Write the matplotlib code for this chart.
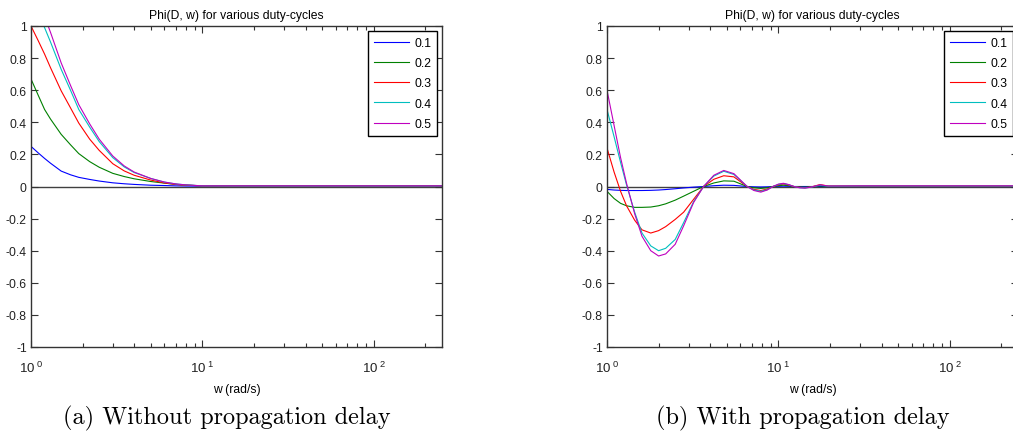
import matplotlib
matplotlib.use("Agg")
import matplotlib.pyplot as plt
from matplotlib.ticker import FixedLocator, LogLocator, NullFormatter

plt.rcParams["font.family"] = ["Liberation Sans", "DejaVu Sans"]
plt.rcParams["mathtext.fontset"] = "custom"
plt.rcParams["mathtext.rm"] = "Liberation Sans"

duty_labels = ["0.1", "0.2", "0.3", "0.4", "0.5"]
line_colors = ["#0000ff", "#008000", "#ff0000", "#00bfbf", "#bf00bf"]

# (a) without propagation delay
w_a = [1, 1.1, 1.2, 1.3, 1.5, 1.7, 1.9, 2.2, 2.5, 3, 3.5, 4, 5, 6, 7, 8, 10,
       15, 30, 100, 250]
phi_a = [
    [0.25, 0.21, 0.175, 0.145, 0.096, 0.073, 0.057, 0.044, 0.034, 0.023, 0.017,
     0.013, 0.008, 0.006, 0.004, 0.003, 0.002, 0.002, 0.002, 0.002, 0.002],
    [0.67, 0.57, 0.48, 0.42, 0.325, 0.26, 0.205, 0.155, 0.12, 0.082, 0.062,
     0.048, 0.031, 0.021, 0.013, 0.009, 0.004, 0.003, 0.003, 0.003, 0.003],
    [1.0, 0.91, 0.825, 0.74, 0.596, 0.49, 0.395, 0.295, 0.225, 0.142, 0.097,
     0.07, 0.04, 0.022, 0.013, 0.008, 0.004, 0.003, 0.003, 0.003, 0.003],
    [1.2, 1.09, 0.99, 0.9, 0.73, 0.6, 0.48, 0.37, 0.28, 0.18, 0.122,
     0.087, 0.05, 0.027, 0.016, 0.01, 0.004, 0.003, 0.003, 0.003, 0.003],
    [1.3, 1.18, 1.06, 0.96, 0.77, 0.63, 0.51, 0.39, 0.295, 0.19, 0.128,
     0.09, 0.05, 0.028, 0.016, 0.01, 0.004, 0.004, 0.004, 0.004, 0.004],
]

# (b) with propagation delay
w_b = [1, 1.1, 1.2, 1.3, 1.45, 1.6, 1.8, 2.0, 2.2, 2.5, 2.8, 3.2, 3.66, 4.2,
       4.8, 5.5, 6.57, 7.2, 7.9, 8.6, 9.3, 10, 10.7, 11.5, 12.3, 13.3, 14.3,
       15.5, 17.5, 19.5, 30, 100, 250]
phi_b = [
    [-0.018, -0.022, -0.024, -0.025, -0.025, -0.025, -0.024, -0.022, -0.019,
     -0.014, -0.009, -0.004, 0.0, 0.005, 0.008, 0.007, 0.0, -0.002, -0.003,
     -0.002, 0.0, 0.001, 0.002, 0.001, 0.0, 0.0, 0.0, 0.0, 0.0, 0.0, 0.0,
     0.0, 0.0],
    [-0.03, -0.075, -0.105, -0.12, -0.13, -0.13, -0.128, -0.12, -0.108,
     -0.085, -0.06, -0.03, 0.0, 0.022, 0.035, 0.033, 0.0, -0.008, -0.012,
     -0.008, 0.0, 0.005, 0.008, 0.005, 0.0, -0.003, -0.004, -0.002, 0.004,
     0.001, 0.001, 0.001, 0.001],
    [0.24, 0.09, -0.03, -0.12, -0.21, -0.27, -0.29, -0.275, -0.25, -0.205,
     -0.16, -0.08, 0.0, 0.045, 0.067, 0.06, 0.0, -0.018, -0.025, -0.016, 0.0,
     0.01, 0.015, 0.009, 0.0, -0.005, -0.007, -0.003, 0.012, 0.003, 0.003,
     0.003, 0.003],
    [0.48, 0.31, 0.15, 0.01, -0.16, -0.29, -0.37, -0.40, -0.385, -0.33,
     -0.225, -0.095, 0.0, 0.065, 0.095, 0.075, 0.0, -0.022, -0.03, -0.02, 0.0,
     0.013, 0.018, 0.011, 0.0, -0.007, -0.009, -0.004, 0.008, 0.002, 0.003,
     0.003, 0.003],
    [0.60, 0.38, 0.18, 0.02, -0.17, -0.31, -0.40, -0.433, -0.42, -0.36,
     -0.245, -0.10, 0.0, 0.07, 0.10, 0.08, 0.0, -0.025, -0.035, -0.022, 0.0,
     0.015, 0.02, 0.012, 0.0, -0.008, -0.01, -0.004, 0.01, 0.003, 0.004,
     0.004, 0.004],
]

y_ticks = [-1, -0.8, -0.6, -0.4, -0.2, 0, 0.2, 0.4, 0.6, 0.8, 1]
y_tick_labels = ["-1", "-0.8", "-0.6", "-0.4", "-0.2", "0", "0.2", "0.4",
                 "0.6", "0.8", "1"]
x_ticks = [1, 10, 100]
x_tick_labels = [r"$\mathregular{10^{\ 0}}$", r"$\mathregular{10^{\ 1}}$",
                 r"$\mathregular{10^{\ 2}}$"]

W, H = 1013, 435
fs = 8.7
fig = plt.figure(figsize=(W / 100, H / 100), dpi=100)
ax_a = fig.add_axes([31 / W, 87 / H, 411 / W, 321 / H])
ax_b = fig.add_axes([607 / W, 87 / H, 411 / W, 321 / H])

edge = "#333333"
for ax, w, phi in [(ax_a, w_a, phi_a), (ax_b, w_b, phi_b)]:
    ax.axhline(0, color="#404040", lw=1.0, zorder=1)
    for vals, col, lab in zip(phi, line_colors, duty_labels):
        ax.plot(w, vals, color=col, lw=0.8, label=lab, zorder=2)
    ax.set_xscale("log")
    ax.set_xlim(1, 250)
    ax.set_ylim(-1, 1)
    ax.xaxis.set_major_locator(FixedLocator(x_ticks))
    ax.set_xticklabels(x_tick_labels)
    ax.xaxis.set_minor_locator(LogLocator(base=10, subs=range(2, 10)))
    ax.xaxis.set_minor_formatter(NullFormatter())
    ax.set_yticks(y_ticks)
    ax.set_yticklabels(y_tick_labels)
    ax.tick_params(which="both", direction="in", top=True, right=True,
                   labelsize=fs, colors=edge, labelcolor="#222222")
    ax.tick_params(which="major", length=5, width=0.8)
    ax.tick_params(which="minor", length=3, width=0.8)
    ax.tick_params(axis="x", pad=9, labelsize=9.5)
    ax.tick_params(axis="y", pad=3)
    for sp in ax.spines.values():
        sp.set_color(edge)
        sp.set_linewidth(1.0)
    ax.set_title("Phi(D, w) for various duty-cycles", fontsize=fs, pad=6)
    ax.set_xlabel("w (rad/s)", fontsize=fs, labelpad=6)
    leg = ax.legend(loc="upper right", fontsize=fs, fancybox=False,
                    framealpha=1, edgecolor="black", handlelength=2.9,
                    handletextpad=0.45, labelspacing=0.68, borderpad=0.5,
                    borderaxespad=0.4)
    leg.get_frame().set_linewidth(1.0)

fig.text(227 / W, 1 - 418 / H, "(a) Without propagation delay",
         family="cmr10", fontsize=17.5, ha="center", va="center")
fig.text(803 / W, 1 - 418 / H, "(b) With propagation delay",
         family="cmr10", fontsize=17.5, ha="center", va="center")

fig.savefig("out.png", dpi=100)
